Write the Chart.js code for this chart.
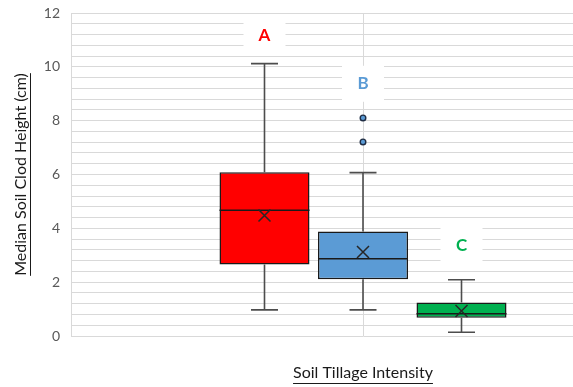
<!DOCTYPE html>
<html>
<head>
<meta charset="utf-8">
<script src="https://cdn.jsdelivr.net/npm/chart.js@4.4.1/dist/chart.umd.min.js"></script>
<style>
  html, body { margin: 0; padding: 0; overflow: hidden; background: #fff; }
  #wrap { width: 655px; height: 387px; }
</style>
</head>
<body>
<div id="wrap"><canvas id="boxChart" width="655" height="387"></canvas></div>
<script>
// Tillage intensity groups
const groups = ["A", "B", "C"];
const groupColors = ["#ff0000", "#5b9bd5", "#00b050"];

// Box-and-whisker summaries, median clod height (cm)
const whiskerLow = [0.97, 0.97, 0.14];
const quartile1 = [2.66, 2.11, 0.68];
const medians = [4.67, 2.87, 0.83];
const means = [4.48, 3.12, 0.93];
const quartile3 = [6.08, 3.88, 1.24];
const whiskerHigh = [10.12, 6.07, 2.09];
const outliers = [[], [7.21, 8.10], []];

// Where the significance letters sit on the y axis
const letterHeights = [11.15, 9.37, 3.37];

// Labelled y ticks (minor gridlines every 0.4)
const yTicks = [0, 2, 4, 6, 8, 10, 12];

const FONT = "Lato";

// Whiskers, medians, means, outliers and the letter panels
const boxParts = {
  id: "boxParts",
  beforeDatasetsDraw(chart) {
    const ctx = chart.ctx;
    const y = chart.scales.y;
    chart.data.datasets.forEach((ds, i) => {
      const bar = chart.getDatasetMeta(i).data[0];
      const cy = y.getPixelForValue(letterHeights[i]);
      ctx.save();
      ctx.fillStyle = "#ffffff";
      ctx.fillRect(bar.x - 21, cy - 18, 42, 36);
      ctx.font = "bold 17px " + FONT;
      ctx.fillStyle = groupColors[i];
      ctx.textAlign = "center";
      ctx.textBaseline = "middle";
      ctx.fillText(groups[i], bar.x, cy);
      ctx.restore();
    });
  },
  afterDatasetsDraw(chart) {
    const ctx = chart.ctx;
    const y = chart.scales.y;
    chart.data.datasets.forEach((ds, i) => {
      const bar = chart.getDatasetMeta(i).data[0];
      const half = bar.width / 2;
      const cap = bar.width * 0.15;
      const x = bar.x;
      ctx.save();

      // whiskers + caps
      ctx.strokeStyle = "#4d4d4d";
      ctx.lineWidth = 1.6;
      ctx.beginPath();
      ctx.moveTo(x, y.getPixelForValue(quartile3[i]));
      ctx.lineTo(x, y.getPixelForValue(whiskerHigh[i]));
      ctx.moveTo(x - cap, y.getPixelForValue(whiskerHigh[i]));
      ctx.lineTo(x + cap, y.getPixelForValue(whiskerHigh[i]));
      ctx.moveTo(x, y.getPixelForValue(quartile1[i]));
      ctx.lineTo(x, y.getPixelForValue(whiskerLow[i]));
      ctx.moveTo(x - cap, y.getPixelForValue(whiskerLow[i]));
      ctx.lineTo(x + cap, y.getPixelForValue(whiskerLow[i]));
      ctx.stroke();

      // median line
      ctx.strokeStyle = "#1a1a1a";
      ctx.lineWidth = 1.5;
      ctx.beginPath();
      const my = y.getPixelForValue(medians[i]);
      ctx.moveTo(x - half, my);
      ctx.lineTo(x + half, my);
      ctx.stroke();

      // mean marker (x)
      const ey = y.getPixelForValue(means[i]);
      ctx.strokeStyle = "#262626";
      ctx.lineWidth = 1.5;
      ctx.beginPath();
      ctx.moveTo(x - 6, ey - 6);
      ctx.lineTo(x + 6, ey + 6);
      ctx.moveTo(x + 6, ey - 6);
      ctx.lineTo(x - 6, ey + 6);
      ctx.stroke();

      // outliers
      outliers[i].forEach(v => {
        ctx.beginPath();
        ctx.arc(x, y.getPixelForValue(v), 2.8, 0, Math.PI * 2);
        ctx.fillStyle = groupColors[i];
        ctx.fill();
        ctx.strokeStyle = "#1f2d44";
        ctx.lineWidth = 1.4;
        ctx.stroke();
      });
      ctx.restore();
    });
  },
  afterDraw(chart) {
    // underline both axis titles
    const ctx = chart.ctx;
    const area = chart.chartArea;
    const xs = chart.scales.x, ys = chart.scales.y;
    ctx.save();
    ctx.strokeStyle = "#1a1a1a";
    ctx.lineWidth = 1;

    ctx.font = "16px " + FONT;
    const xw = ctx.measureText(xs.options.title.text).width;
    const xc = (area.left + area.right) / 2;
    const xy = xs.bottom - 9 - xs.options.title.padding.bottom + 9.5;
    ctx.beginPath();
    ctx.moveTo(xc - xw / 2, Math.round(xy) + 0.5);
    ctx.lineTo(xc + xw / 2, Math.round(xy) + 0.5);
    ctx.stroke();

    const yw = ctx.measureText(ys.options.title.text).width;
    const yc = (area.top + area.bottom) / 2;
    const yx = ys.left + 9 + ys.options.title.padding.top + 9.5;
    ctx.beginPath();
    ctx.moveTo(Math.round(yx) + 0.5, yc - yw / 2);
    ctx.lineTo(Math.round(yx) + 0.5, yc + yw / 2);
    ctx.stroke();
    ctx.restore();
  }
};

const chart = new Chart(document.getElementById("boxChart"), {
  type: "bar",
  data: {
    labels: [""],
    datasets: groups.map((g, i) => ({
      label: g,
      data: [[quartile1[i], quartile3[i]]],
      backgroundColor: groupColors[i],
      borderColor: "#1a1a1a",
      borderWidth: 1.5,
      borderSkipped: false,
      categoryPercentage: 0.506,
      barPercentage: 0.914
    }))
  },
  options: {
    responsive: false,
    animation: false,
    layout: { padding: { top: 13, right: 0, left: 0, bottom: 0 } },
    plugins: {
      legend: { display: false },
      tooltip: { enabled: false }
    },
    scales: {
      x: {
        grid: { color: "#d9d9d9", offset: false, drawTicks: false },
        border: { display: false },
        ticks: { display: false },
        title: {
          display: true,
          text: "Soil Tillage Intensity",
          color: "#1a1a1a",
          font: { family: FONT, size: 16 },
          padding: { top: 0, bottom: 5 }
        },
        afterFit(scale) { scale.height = 51; }
      },
      y: {
        min: 0,
        max: 12,
        // invisible tick marks keep the labels clear of the axis
        grid: { color: "#d9d9d9", drawTicks: true, tickLength: 11, tickColor: "rgba(0,0,0,0)" },
        border: { color: "#d9d9d9" },
        ticks: {
          stepSize: 0.4,
          autoSkip: false,
          padding: 0,
          color: "#595959",
          font: { family: FONT, size: 14 },
          callback: (v) => {
            const r = Math.round(v * 10) / 10;
            return yTicks.includes(r) ? String(r) : "";
          }
        },
        title: {
          display: true,
          text: "Median Soil Clod Height (cm)",
          color: "#1a1a1a",
          font: { family: FONT, size: 16 },
          padding: { top: 11, bottom: 0 }
        },
        afterFit(scale) { scale.width = 71; }
      }
    }
  },
  plugins: [boxParts]
});
</script>
</body>
</html>
